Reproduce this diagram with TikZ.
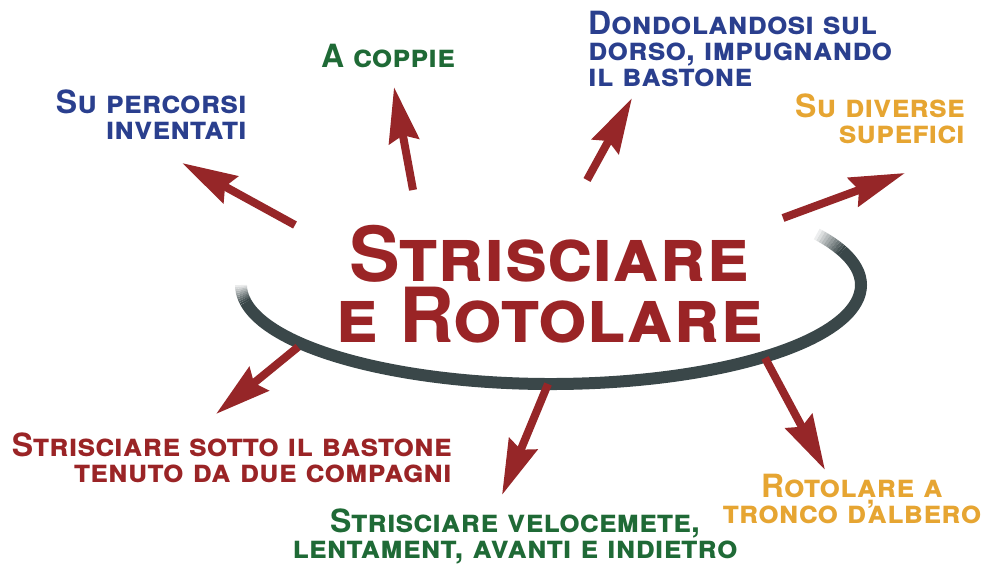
\documentclass[tikz,border=0pt]{standalone}
\usepackage{fontspec}
\setmainfont{TeX Gyre Heros}
\usetikzlibrary{arrows.meta}

\definecolor{titlered}{HTML}{9A2426}
\definecolor{arrowred}{HTML}{962628}
\definecolor{labelblue}{HTML}{2A3F8E}
\definecolor{labelgreen}{HTML}{1F6A36}
\definecolor{labelorange}{HTML}{E6A532}
\definecolor{ringgray}{HTML}{3A4749}

\tikzset{
  tasktext/.style={inner sep=0pt, font=\fontsize{32}{26}\selectfont\bfseries\scshape},
  titletext/.style={inner sep=0pt, text=titlered, align=center,
    font=\fontsize{76}{61}\selectfont\bfseries\scshape},
  ring/.style={draw=ringgray, line width=12pt},
  bigarrow/.style={draw=arrowred, line width=8pt,
    -{Stealth[length=55pt, width=30pt, inset=6pt]}}
}

\begin{document}
\begin{tikzpicture}[x=1pt,y=-1pt]
  \useasboundingbox (0,0) rectangle (982,567);

  % ring under the title
  \draw[ring] (551,285) ++(170:310 and 99) arc[start angle=170, end angle=-20, x radius=310, y radius=99];
  \foreach \i [evaluate=\i as \o using 1-\i/10, evaluate=\i as \s using 170+\i, evaluate=\i as \e using 171+\i] in {0,...,9}
    \draw[ring, draw opacity=\o] (551,285) ++(\s:310 and 99) arc[start angle=\s, end angle=\e, x radius=310, y radius=99];
  \foreach \i [evaluate=\i as \o using 1-\i/11, evaluate=\i as \s using -20-\i, evaluate=\i as \e using -21-\i] in {0,...,10}
    \draw[ring, draw opacity=\o] (551,285) ++(\s:310 and 99) arc[start angle=\s, end angle=\e, x radius=310, y radius=99];

  \node[titletext, anchor=north] (title) at (549,225) {Strisciare\\e Rotolare};

  % labels
  \node[tasktext, text=labelblue, align=right, anchor=north east] (percorsi) at (247,90) {Su percorsi\\inventati};
  \node[tasktext, text=labelgreen, anchor=north] (coppie) at (388,44) {A coppie};
  \node[tasktext, text=labelblue, align=left, anchor=north west] (dorso) at (588,11) {Dondolandosi sul\\dorso, impugnando\\il bastone};
  \node[tasktext, text=labelorange, align=right, anchor=north east] (superfici) at (965,94) {Su diverse\\supefici};
  \node[tasktext, text=titlered, align=right, anchor=north east] (sotto) at (452,433) {Strisciare sotto il bastone\\tenuto da due compagni};
  \node[tasktext, text=labelgreen, align=center, anchor=north] (veloce) at (515,509) {Strisciare velocemete,\\lentament, avanti e indietro};
  \node[tasktext, text=labelorange, align=center, anchor=north] (tronco) at (852,474) {Rotolare a\\tronco d'\kern-8pt albero};

  % arrow ends
  \coordinate (percorsi-tail) at (295,225);
  \coordinate (percorsi-tip) at (182,163);
  \coordinate (coppie-tail) at (413,190);
  \coordinate (coppie-tip) at (394,87);
  \coordinate (dorso-tail) at (587,180);
  \coordinate (dorso-tip) at (632,98);
  \coordinate (superfici-tail) at (783,218);
  \coordinate (superfici-tip) at (905,173);
  \coordinate (sotto-tail) at (298,347);
  \coordinate (sotto-tip) at (216,414);
  \coordinate (veloce-tail) at (548,384);
  \coordinate (veloce-tip) at (502,495);
  \coordinate (tronco-tail) at (765,358);
  \coordinate (tronco-tip) at (825,470);

  \draw[bigarrow] (percorsi-tail) -- (percorsi-tip);
  \draw[bigarrow] (coppie-tail) -- (coppie-tip);
  \draw[bigarrow] (dorso-tail) -- (dorso-tip);
  \draw[bigarrow] (superfici-tail) -- (superfici-tip);
  \draw[bigarrow] (sotto-tail) -- (sotto-tip);
  \draw[bigarrow] (veloce-tail) -- (veloce-tip);
  \draw[bigarrow] (tronco-tail) -- (tronco-tip);
\end{tikzpicture}
\end{document}
